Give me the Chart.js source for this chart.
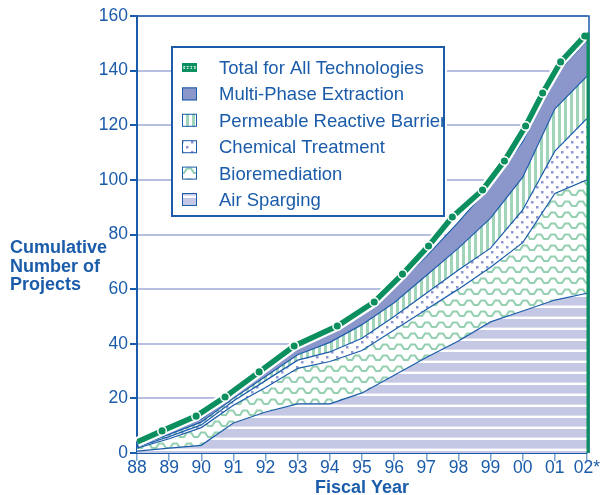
<!DOCTYPE html>
<html>
<head>
<meta charset="utf-8">
<script src="https://cdn.jsdelivr.net/npm/chart.js@4.4.0/dist/chart.umd.min.js"></script>
<style>
  html, body { margin: 0; padding: 0; background: #fff; }
  #wrap { width: 602px; height: 495px; position: relative; }
</style>
</head>
<body>
<div id="wrap"><canvas id="chart" width="602" height="495"></canvas></div>
<script>
// Años fiscales del eje X (índice 0 = 1988)
const fiscalYears = ['88', '89', '90', '91', '92', '93', '94', '95', '96', '97', '98', '99', '00', '01', '02*'];

// Proyectos por tecnología (se apilan en el gráfico)
const airSparging    = [0.7, 1.8, 2.8, 11, 15, 18, 18, 22, 28.5, 35, 41, 48, 52, 56, 58.5];
const bioremediation = [1.1, 3.4, 6.5, 6.5, 9, 13, 15.5, 15.5, 16.5, 17.5, 19, 20, 25, 39, 41.5];
const chemical       = [0.4, 0.8, 1, 1.5, 2.5, 3, 3.5, 4.5, 5, 6, 7, 7, 12, 15.5, 22.5];
const prb            = [0.4, 0.8, 1, 1, 1.5, 2, 3.5, 5, 5, 6.5, 8, 11, 12, 15.5, 15.5];
const multiPhase     = [0.4, 0.7, 1.2, 1, 1.5, 2.5, 3.5, 4, 5.5, 7, 9.5, 12, 13, 12.5, 13];

// Total de todas las tecnologías (posición en años desde 1988, valor)
const totalYears  = [0, 0.78, 1.84, 2.74, 3.8, 4.89, 6.23, 7.38, 8.26, 9.07, 9.81, 10.75, 11.43, 12.09, 12.62, 13.18, 13.93, 14];
const totalValues = [4, 8.1, 13.5, 20.5, 29.7, 39.2, 46.5, 55.3, 65.5, 75.8, 86.4, 96.3, 106.9, 119.7, 131.8, 143.2, 152.7, 154];
const totalMarked = [false, true, true, true, true, true, true, true, true, true, true, true, true, true, true, true, true, false];

const BLUE = '#1b5caa';
const GREEN = '#0c8f5f';
const FONT = '"Liberation Sans", Arial, sans-serif';

const ctx = document.getElementById('chart').getContext('2d');

function makePattern(w, h, draw) {
    const c = document.createElement('canvas');
    c.width = w;
    c.height = h;
    const g = c.getContext('2d');
    g.fillStyle = '#ffffff';
    g.fillRect(0, 0, w, h);
    draw(g);
    return ctx.createPattern(c, 'repeat');
}

// Rayas horizontales lavanda
const patAir = makePattern(4, 11, g => {
    g.fillStyle = '#c5c8e4';
    g.fillRect(0, 0, 4, 8.6);
});
// Zigzag verde
const patBio = makePattern(14, 11, g => {
    g.strokeStyle = '#96d0b2';
    g.lineWidth = 2.2;
    g.beginPath();
    g.moveTo(-1, 8);
    g.lineTo(2, 8);
    g.lineTo(5, 3.5);
    g.lineTo(9, 3.5);
    g.lineTo(12, 8);
    g.lineTo(15, 8);
    g.stroke();
});
// Puntos azulados
const patChem = makePattern(10, 10, g => {
    g.fillStyle = '#8d96d2';
    g.fillRect(1, 1, 2.5, 2.5);
    g.fillRect(6, 6, 2.5, 2.5);
});
// Rayas verticales verdes
const patPrb = makePattern(6, 4, g => {
    g.fillStyle = '#a0d5ba';
    g.fillRect(0, 0, 3, 4);
});
const colMpe = '#8b97cb';

const toXY = arr => arr.map((v, i) => ({ x: i, y: v }));

function areaSet(label, values, bg, fill) {
    return {
        label: label,
        data: toXY(values),
        backgroundColor: bg,
        borderColor: BLUE,
        borderWidth: 1.2,
        fill: fill,
        pointRadius: 0,
        tension: 0,
        stack: 'tec'
    };
}

const datasets = [
    areaSet('Air Sparging', airSparging, patAir, 'origin'),
    areaSet('Bioremediation', bioremediation, patBio, '-1'),
    areaSet('Chemical Treatment', chemical, patChem, '-1'),
    areaSet('Permeable Reactive Barrier', prb, patPrb, '-1'),
    areaSet('Multi-Phase Extraction', multiPhase, colMpe, '-1'),
    {
        label: 'Total for All Technologies',
        data: totalYears.map((x, i) => ({ x: x, y: totalValues[i] })),
        borderColor: GREEN,
        borderWidth: 5.5,
        fill: false,
        tension: 0,
        stack: 'total',
        order: -1,
        pointRadius: totalMarked.map(m => m ? 4.3 : 0),
        pointBackgroundColor: GREEN,
        pointBorderColor: '#ffffff',
        pointBorderWidth: 1.5
    }
];

// Swatches de la leyenda
function drawSwatch(c, ds, x, y) {
    const w = 15, h = 13;
    if (ds.stack === 'total') {
        c.fillStyle = GREEN;
        c.fillRect(x, y + 2, w, h - 4);
        c.fillStyle = '#ffffff';
        c.fillRect(x + 1.5, y + 5, w - 3, 3);
        c.fillStyle = GREEN;
        [x + 4, x + 7.5, x + 11].forEach(cx => {
            c.beginPath();
            c.arc(cx, y + 6.5, 1.6, 0, Math.PI * 2);
            c.fill();
        });
        return;
    }
    c.fillStyle = ds.backgroundColor;
    c.fillRect(x, y, w, h);
    c.strokeStyle = BLUE;
    c.lineWidth = 1;
    c.strokeRect(x + 0.5, y + 0.5, w - 1, h - 1);
}

const decorPlugin = {
    id: 'decor',
    beforeDatasetDraw(chart, args) {
        const ds = chart.data.datasets[args.index];
        if (ds.stack !== 'total') return;
        // contorno blanco bajo la línea total
        const pts = args.meta.data;
        const c = chart.ctx;
        c.save();
        c.strokeStyle = '#ffffff';
        c.lineWidth = 10;
        c.lineJoin = 'round';
        c.beginPath();
        pts.forEach((p, i) => i ? c.lineTo(p.x, p.y) : c.moveTo(p.x, p.y));
        c.stroke();
        c.restore();
    },
    afterDatasetsDraw(chart) {
        const c = chart.ctx;
        const a = chart.chartArea;
        const xs = chart.scales.x, ys = chart.scales.y;
        c.save();
        // marco superior y derecho, y caída del total hasta cero
        const last = totalValues[totalValues.length - 1];
        c.strokeStyle = BLUE;
        c.lineWidth = 1.5;
        c.beginPath();
        c.moveTo(a.left, a.top);
        c.lineTo(a.right + 2, a.top);
        c.lineTo(a.right + 2, a.bottom);
        c.stroke();
        c.strokeStyle = GREEN;
        c.lineWidth = 3;
        c.beginPath();
        c.moveTo(xs.getPixelForValue(14) + 1, ys.getPixelForValue(last));
        c.lineTo(xs.getPixelForValue(14) + 1, ys.getPixelForValue(0));
        c.stroke();
        c.restore();
    },
    afterDraw(chart) {
        const c = chart.ctx;
        c.save();
        // título del eje Y en tres líneas
        c.fillStyle = BLUE;
        c.font = 'bold 18px ' + FONT;
        c.textBaseline = 'alphabetic';
        c.textAlign = 'left';
        ['Cumulative', 'Number of', 'Projects'].forEach((t, i) => c.fillText(t, 10, 253 + i * 18.5));

        // leyenda dentro del área
        const bx = 172, by = 47, bw = 272, bh = 169;
        c.fillStyle = '#ffffff';
        c.fillRect(bx, by, bw, bh);
        const order = [5, 4, 3, 2, 1, 0];
        c.font = '18.5px ' + FONT;
        c.textBaseline = 'middle';
        order.forEach((idx, row) => {
            const ds = chart.data.datasets[idx];
            const cy = 68 + row * 26.4;
            drawSwatch(c, ds, 182, cy - 7);
            c.fillStyle = BLUE;
            c.fillText(ds.label, 219, cy + 1);
        });
        c.fillStyle = '#ffffff';
        c.fillRect(bx + bw, by + 2, 3, bh - 4);
        c.strokeStyle = BLUE;
        c.lineWidth = 2;
        c.strokeRect(bx, by, bw, bh);
        c.restore();
    }
};

new Chart(ctx, {
    type: 'line',
    data: { datasets: datasets },
    options: {
        responsive: false,
        animation: false,
        layout: { padding: { left: 0, top: 16, right: 15, bottom: 0 } },
        plugins: {
            legend: { display: false },
            tooltip: { enabled: false }
        },
        scales: {
            x: {
                type: 'linear',
                min: 0,
                max: 14,
                ticks: {
                    stepSize: 1,
                    autoSkip: false,
                    maxRotation: 0,
                    color: BLUE,
                    padding: -3,
                    font: { family: FONT, size: 17.5 },
                    callback: v => fiscalYears[v]
                },
                grid: { drawOnChartArea: false, color: '#7aa3d6', tickLength: 8, lineWidth: 1.5 },
                border: { color: BLUE, width: 2 },
                title: {
                    display: true,
                    text: 'Fiscal Year',
                    color: BLUE,
                    font: { family: FONT, size: 18, weight: 'bold' },
                    padding: { top: 0, bottom: -4 }
                },
                afterFit(s) { s.height = 42; s.paddingLeft = 0; s.paddingRight = 0; }
            },
            y: {
                stacked: true,
                min: 0,
                max: 160,
                ticks: {
                    stepSize: 20,
                    color: BLUE,
                    padding: 2,
                    font: { family: FONT, size: 17.5 }
                },
                grid: { color: '#b7bfe0', lineWidth: 2, tickLength: 7, tickColor: BLUE },
                border: { color: BLUE, width: 2 },
                afterFit(s) { s.width = 137; s.paddingTop = 0; s.paddingBottom = 0; }
            }
        }
    },
    plugins: [decorPlugin]
});
</script>
</body>
</html>
